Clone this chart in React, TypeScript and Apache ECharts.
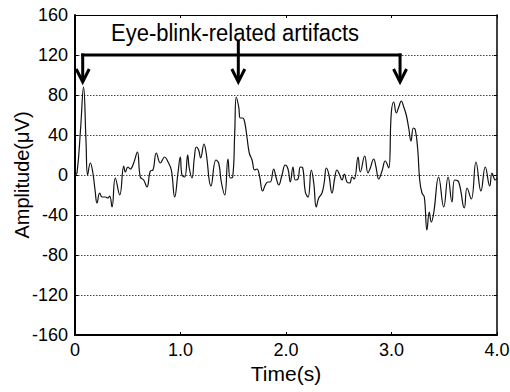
import React, { useEffect, useRef } from "react";
import * as echarts from "echarts";

// EEG trace (time in s, amplitude in µV)
const timeS = [
  0, 0.019, 0.052, 0.081, 0.104, 0.12, 0.145, 0.168, 0.19, 0.209, 0.234, 0.256, 0.287, 0.313, 0.329,
  0.351, 0.382, 0.424, 0.462, 0.477, 0.502, 0.524, 0.556, 0.591, 0.619, 0.651, 0.682, 0.714, 0.739,
  0.771, 0.809, 0.85, 0.882, 0.913, 0.945, 0.976, 0.998, 1.014, 1.04, 1.068, 1.083, 1.109, 1.131,
  1.15, 1.172, 1.191, 1.223, 1.242, 1.289, 1.336, 1.362, 1.387, 1.419, 1.45, 1.472, 1.495, 1.514,
  1.529, 1.552, 1.567, 1.59, 1.608, 1.63, 1.652, 1.678, 1.703, 1.725, 1.747, 1.779, 1.804, 1.829,
  1.851, 1.883, 1.905, 1.931, 1.962, 1.993, 2.019, 2.041, 2.066, 2.088, 2.114, 2.136, 2.159, 2.183,
  2.209, 2.24, 2.263, 2.287, 2.31, 2.341, 2.363, 2.382, 2.405, 2.436, 2.462, 2.483, 2.509, 2.531,
  2.553, 2.578, 2.604, 2.626, 2.647, 2.683, 2.704, 2.746, 2.777, 2.799, 2.831, 2.853, 2.879, 2.91,
  2.941, 2.973, 2.998, 3.021, 3.046, 3.069, 3.093, 3.116, 3.14, 3.163, 3.185, 3.207, 3.226, 3.249,
  3.267, 3.289, 3.311, 3.336, 3.358, 3.377, 3.4, 3.447, 3.495, 3.536, 3.573, 3.599, 3.637, 3.69,
  3.716, 3.756, 3.801, 3.848, 3.889, 3.931, 3.953, 3.984, 4.0,
];
const amplitudeUv = [
  0, 2, 45, 88, 35, 0, 12, 3, -15, -28, -18, -22, -22, -23, -21,
  -32, -3, -20, 9, 3, 8, 6, 12, 23, -2, -5, -12, 4, 5,
  22, 12, 18, 13, 5, -22, 2, 18, 0, -2, 20, 7, -3, 17,
  28, 25, 17, 31, 23, -11, 15, 12, -7, -20, 16, -3, -2, 42,
  78, 68, 57, 57, 53, 38, 22, 15, 5, 6, 0, -16, -10, -7,
  -7, 6, -2, -10, 0, 10, 6, -7, 8, -5, -4, 8, 7, -17,
  -22, 5, -8, -32, -23, -18, -7, 7, 1, -18, -3, 5, 0, -5,
  1, -7, -8, -2, -4, 18, 3, 19, 2, 7, 16, 8, -4, 4,
  14, 7, 62, 73, 62, 68, 74, 68, 60, 47, 34, 47, 45, 25,
  -5, -18, -22, -55, -37, -47, -38, -2, -32, -2, -27, -5, -7, -33,
  -13, -24, 13, -16, 8, -11, 2, -5, -3,
];

const xTicks = [0, 1, 2, 3, 4];
const yTicks = [-160, -120, -80, -40, 0, 40, 80, 120, 160];

// Annotation
const annotationText = "Eye-blink-related artifacts";
const arrowTimes = [0.073, 1.548, 3.081];
const bracketLevel = 120;
const arrowTipLevel = 93;
const middleArrowTopLevel = 135;
const annotationTextPos = [1.517, 142];

const FONT = "'Liberation Sans', Arial, sans-serif";

export default function App() {
  const ref = useRef<HTMLDivElement>(null);
  useEffect(() => {
    if (!ref.current) return;
    const chart = echarts.init(ref.current, undefined, { renderer: "svg" });
    const axisCommon = {
      min: 0,
      max: xTicks[xTicks.length - 1],
      interval: 1,
    };
    chart.setOption({
      animation: false,
      backgroundColor: "#fff",
      grid: {
        left: 75,
        right: 13,
        top: 15,
        bottom: 57,
        containLabel: false,
        outerBoundsMode: "none",
      },
      xAxis: [
        {
          type: "value",
          ...axisCommon,
          position: "bottom",
          name: "Time(s)",
          nameLocation: "middle",
          nameGap: 28,
          nameMoveOverlap: false,
          nameTextStyle: { fontFamily: FONT, fontSize: 21, color: "#000" },
          axisLine: { show: true, onZero: false, lineStyle: { color: "#000", width: 2 } },
          axisTick: { show: true, inside: true, length: 3, lineStyle: { color: "#000" } },
          axisLabel: {
            fontFamily: FONT,
            fontSize: 18,
            color: "#000",
            margin: 6,
            formatter: (v: number) => (v === 0 ? "0" : v.toFixed(1)),
          },
          splitLine: { show: false },
        },
        {
          type: "value",
          ...axisCommon,
          position: "top",
          axisLine: { show: true, onZero: false, lineStyle: { color: "#000", width: 1 } },
          axisTick: { show: true, inside: true, length: 3, lineStyle: { color: "#000" } },
          axisLabel: { show: false },
          splitLine: { show: false },
        },
      ],
      yAxis: [
        {
          type: "value",
          min: yTicks[0],
          max: yTicks[yTicks.length - 1],
          interval: 40,
          position: "left",
          name: "Amplitude(μV)",
          nameLocation: "middle",
          nameGap: 43,
          nameMoveOverlap: false,
          nameTextStyle: { fontFamily: FONT, fontSize: 20, color: "#000" },
          axisLine: { show: true, onZero: false, lineStyle: { color: "#000", width: 2 } },
          axisTick: { show: true, inside: true, length: 3, lineStyle: { color: "#000" } },
          axisLabel: { fontFamily: FONT, fontSize: 18, color: "#000", margin: 7 },
          splitLine: { show: true, lineStyle: { color: "#444", type: [1.5, 1.5], width: 1 } },
        },
        {
          type: "value",
          min: yTicks[0],
          max: yTicks[yTicks.length - 1],
          interval: 40,
          position: "right",
          axisLine: { show: true, onZero: false, lineStyle: { color: "#000", width: 1.5 } },
          axisTick: { show: true, inside: true, length: 3, lineStyle: { color: "#000" } },
          axisLabel: { show: false },
          splitLine: { show: false },
        },
      ],
      series: [
        {
          type: "line",
          xAxisIndex: 0,
          yAxisIndex: 0,
          data: timeS.map((t, i) => [t, amplitudeUv[i]]),
          showSymbol: false,
          smooth: 0.45,
          lineStyle: { color: "#111", width: 1.2 },
          z: 3,
        },
      ],
    });

    const px = (t: number, v: number) =>
      chart.convertToPixel({ gridIndex: 0 }, [t, v]) as number[];
    const yL = px(0, bracketLevel)[1];
    const yTip = px(0, arrowTipLevel)[1];
    const yTop = px(0, middleArrowTopLevel)[1];
    const xs = arrowTimes.map((t) => px(t, 0)[0]);
    const lw = 3;
    const stroke = { stroke: "#000", lineWidth: lw, fill: "none" };
    const elements: any[] = [
      {
        type: "polyline",
        shape: { points: [[xs[0] - lw / 2, yL], [xs[2] + lw / 2, yL]] },
        style: stroke,
        z: 10,
      },
    ];
    xs.forEach((x, i) => {
      elements.push({
        type: "line",
        shape: { x1: x, y1: i === 1 ? yTop : yL - lw / 2, x2: x, y2: yTip - 2 },
        style: stroke,
        z: 10,
      });
      elements.push({
        type: "polyline",
        shape: { points: [[x - 6.5, yTip - 13], [x, yTip], [x + 6.5, yTip - 13]] },
        style: { ...stroke, lineJoin: "miter" },
        z: 10,
      });
    });
    const tp = px(annotationTextPos[0], annotationTextPos[1]);
    elements.push({
      type: "text",
      x: tp[0],
      y: tp[1],
      scaleY: 1.12,
      style: {
        text: annotationText,
        fontFamily: FONT,
        fontSize: 22,
        fill: "#000",
        align: "center",
        verticalAlign: "middle",
      },
      z: 11,
    });
    chart.setOption({ graphic: elements });

    return () => chart.dispose();
  }, []);
  return (
    <div
      ref={ref}
      style={{ position: "fixed", left: 0, top: 0, width: 510, height: 392 }}
    />
  );
}
